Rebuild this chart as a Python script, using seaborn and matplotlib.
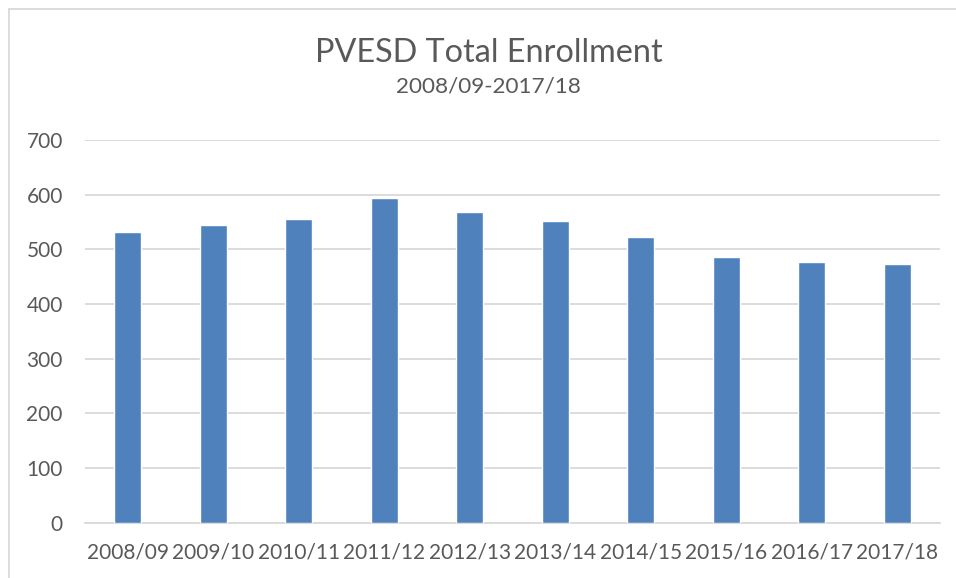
import matplotlib
matplotlib.use("Agg")
import matplotlib.pyplot as plt
import seaborn as sns
import pandas as pd
from matplotlib.lines import Line2D

years = ["2008/09", "2009/10", "2010/11", "2011/12", "2012/13",
         "2013/14", "2014/15", "2015/16", "2016/17", "2017/18"]
enrollment = [532, 545, 555, 593, 569, 551, 522, 486, 476, 474]
yticks = [0, 100, 200, 300, 400, 500, 600, 700]
title = "PVESD Total Enrollment"
subtitle = "2008/09-2017/18"

sns.set_theme(style="white")
plt.rcParams["font.family"] = ["Lato", "DejaVu Sans"]
text_color = "#595959"

df = pd.DataFrame({"year": years, "enrollment": enrollment})

fig = plt.figure(figsize=(9.56, 5.78), dpi=100)
ax = fig.add_axes([85/956, 1-522.7/578, (940-85)/956, (522.7-140)/578])
sns.barplot(data=df, x="year", y="enrollment", color="#4F81BD",
            width=0.32, saturation=1, ax=ax, zorder=3)

ax.set_ylim(0, 700)
ax.set_yticks(yticks)
ax.set_yticklabels([str(v) for v in yticks])
ax.set_xlim(-0.5, len(years) - 0.5)
ax.set_xlabel("")
ax.set_ylabel("")
ax.grid(axis="y", color="#D9D9D9", linewidth=1.3, zorder=0)
ax.grid(axis="x", visible=False)
for s in ["top", "right", "left"]:
    ax.spines[s].set_visible(False)
ax.spines["bottom"].set_color("#D9D9D9")
ax.spines["bottom"].set_linewidth(1.3)
ax.tick_params(axis="both", length=0, colors=text_color, labelsize=15)
ax.tick_params(axis="y", pad=16)
ax.tick_params(axis="x", pad=14)

fig.text(489/956, 1-53/578, title, ha="center", va="center",
         fontsize=23.3, color=text_color)
fig.text(488/956, 1-86/578, subtitle, ha="center", va="center",
         fontsize=16.2, color=text_color)

# chart area border (left and top)
fig.add_artist(Line2D([9/956, 9/956], [0, 1-9/578], transform=fig.transFigure,
                      color="#D9D9D9", linewidth=1.3))
fig.add_artist(Line2D([9/956, 1], [1-9/578, 1-9/578], transform=fig.transFigure,
                      color="#D9D9D9", linewidth=1.3))

fig.savefig("out.png", dpi=100, facecolor="white")
